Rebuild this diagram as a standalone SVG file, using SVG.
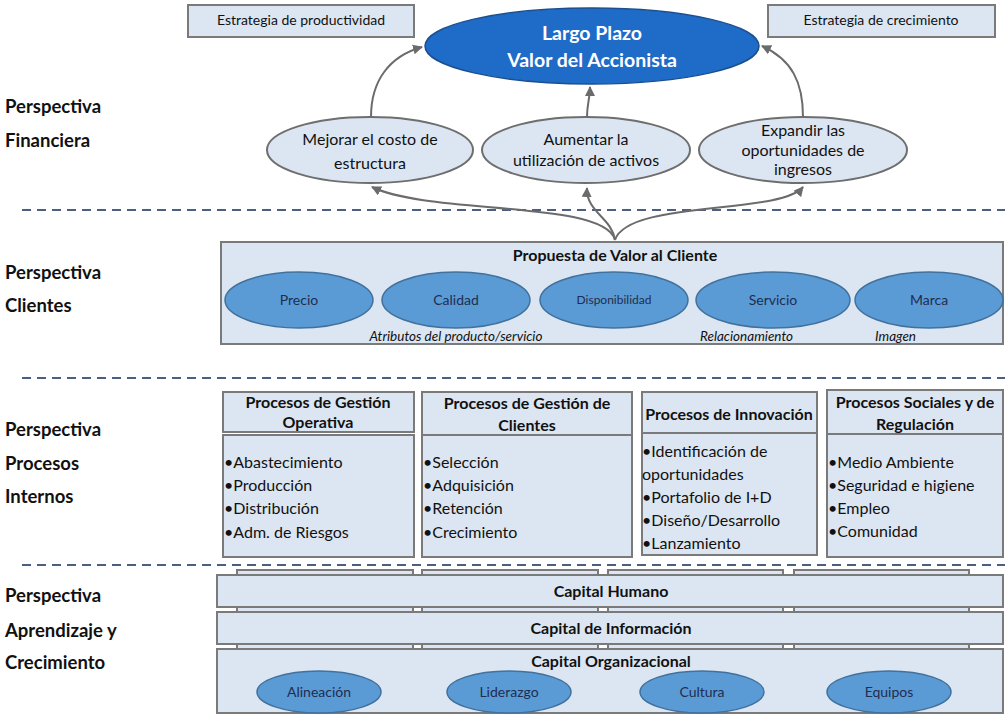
<svg xmlns="http://www.w3.org/2000/svg" width="1005" height="715" viewBox="0 0 1005 715">
<defs>
<marker id="ah" viewBox="0 0 10 10" refX="9" refY="5" markerWidth="5" markerHeight="5" orient="auto-start-reverse" markerUnits="strokeWidth">
<path d="M0,0 L10,5 L0,10 z" fill="#6b6b6b"/>
</marker>
<style>
text{font-family:Lato,"Open Sans","Liberation Sans",sans-serif;fill:#111}
.lbl{font-size:18.5px;font-weight:bold}
.box{fill:#dce6f2;stroke:#7a7a7a;stroke-width:2}
.lell{fill:#dce6f2;stroke:#6e6e6e;stroke-width:2}
.mell{fill:#5b9bd5;stroke:#41719c;stroke-width:1.5}
.sep{stroke:#4d5f80;stroke-width:2;stroke-dasharray:9 6;fill:none}
.con{fill:none;stroke:#6b6b6b;stroke-width:2;marker-end:url(#ah)}
.t14{font-size:14px}
.t16{font-size:16px}
.b16{font-size:16px;font-weight:bold}
.nv{fill:#1f2d50;font-size:14px}
.it{font-size:13.5px;font-style:italic}
.mid{text-anchor:middle}
</style>
</defs>
<rect width="1005" height="715" fill="#ffffff"/>

<g id="separators">
<line class="sep" x1="22" y1="210" x2="1005" y2="210"/>
<line class="sep" x1="22" y1="378" x2="1005" y2="378"/>
<line class="sep" x1="22" y1="565" x2="1005" y2="565"/>
</g>

<g id="labels">
<text class="lbl" x="5" y="113">Perspectiva</text>
<text class="lbl" x="5" y="147">Financiera</text>
<text class="lbl" x="5" y="279">Perspectiva</text>
<text class="lbl" x="5" y="312">Clientes</text>
<text class="lbl" x="5" y="436">Perspectiva</text>
<text class="lbl" x="5" y="470">Procesos</text>
<text class="lbl" x="5" y="503">Internos</text>
<text class="lbl" x="5" y="602">Perspectiva</text>
<text class="lbl" x="5" y="637">Aprendizaje y</text>
<text class="lbl" x="5" y="669">Crecimiento</text>
</g>

<g id="estrategia-productividad">
<rect class="box" x="188" y="5" width="226" height="32"/>
<text class="t14 mid" x="301" y="25">Estrategia de productividad</text>
</g>
<g id="estrategia-crecimiento">
<rect class="box" x="768" y="5" width="227" height="32"/>
<text class="t14 mid" x="881" y="25">Estrategia de crecimiento</text>
</g>

<g id="largo-plazo">
<ellipse cx="592" cy="46" rx="167" ry="38" fill="#1f6cc8" stroke="#1b4f8f" stroke-width="1.5"/>
<text class="mid" x="592" y="40" style="font-size:19.5px;font-weight:bold;fill:#ffffff">Largo Plazo</text>
<text class="mid" x="592" y="67" style="font-size:19.5px;font-weight:bold;fill:#ffffff">Valor del Accionista</text>
</g>

<g id="mejorar">
<ellipse class="lell" cx="370" cy="150" rx="103" ry="33"/>
<text class="t16 mid" x="370" y="145">Mejorar el costo de</text>
<text class="t16 mid" x="370" y="169">estructura</text>
</g>
<g id="aumentar">
<ellipse class="lell" cx="586" cy="150" rx="104" ry="33"/>
<text class="t16 mid" x="586" y="145">Aumentar la</text>
<text class="t16 mid" x="586" y="166">utilización de activos</text>
</g>
<g id="expandir">
<ellipse class="lell" cx="803" cy="150" rx="104" ry="33"/>
<text class="t16 mid" x="803" y="136">Expandir las</text>
<text class="t16 mid" x="803" y="156">oportunidades de</text>
<text class="t16 mid" x="803" y="175">ingresos</text>
</g>

<g id="propuesta">
<rect class="box" x="221" y="242" width="782" height="102"/>
<text class="b16 mid" x="615" y="261">Propuesta de Valor al Cliente</text>
</g>
<g id="precio">
<ellipse class="mell" cx="299" cy="300" rx="74" ry="28"/>
<text class="nv mid" x="299" y="305">Precio</text>
</g>
<g id="calidad">
<ellipse class="mell" cx="456" cy="300" rx="74" ry="28"/>
<text class="nv mid" x="456" y="305">Calidad</text>
</g>
<g id="disponibilidad">
<ellipse class="mell" cx="614" cy="300" rx="74" ry="28"/>
<text class="nv mid" x="614" y="304" style="font-size:12px">Disponibilidad</text>
</g>
<g id="servicio">
<ellipse class="mell" cx="773" cy="300" rx="77" ry="28"/>
<text class="nv mid" x="773" y="305">Servicio</text>
</g>
<g id="marca">
<ellipse class="mell" cx="929" cy="300" rx="74" ry="28"/>
<text class="nv mid" x="929" y="305">Marca</text>
</g>
<g id="customer-notes">
<text class="it mid" x="456" y="341">Atributos del producto/servicio</text>
<text class="it" x="700" y="341">Relacionamiento</text>
<text class="it" x="875" y="341">Imagen</text>
</g>

<g id="proc-operativa">
<rect class="box" x="223" y="392" width="191" height="40"/>
<rect class="box" x="223" y="435" width="191" height="122"/>
<text class="b16 mid" x="318" y="408">Procesos de Gestión</text>
<text class="b16 mid" x="318" y="428">Operativa</text>
<text class="t16" x="224" y="468">•Abastecimiento</text>
<text class="t16" x="224" y="491">•Producción</text>
<text class="t16" x="224" y="514">•Distribución</text>
<text class="t16" x="224" y="538">•Adm. de Riesgos</text>
</g>
<g id="proc-clientes">
<rect class="box" x="422" y="392" width="210" height="43"/>
<rect class="box" x="422" y="435" width="210" height="122"/>
<text class="b16 mid" x="527" y="409">Procesos de Gestión de</text>
<text class="b16 mid" x="527" y="431">Clientes</text>
<text class="t16" x="423" y="468">•Selección</text>
<text class="t16" x="423" y="491">•Adquisición</text>
<text class="t16" x="423" y="514">•Retención</text>
<text class="t16" x="423" y="538">•Crecimiento</text>
</g>
<g id="proc-innovacion">
<rect class="box" x="642" y="392" width="175" height="41"/>
<rect class="box" x="642" y="433" width="175" height="122"/>
<text class="b16 mid" x="729" y="420">Procesos de Innovación</text>
<text class="t16" x="642" y="457">•Identificación de</text>
<text class="t16" x="642" y="480">oportunidades</text>
<text class="t16" x="642" y="503">•Portafolio de I+D</text>
<text class="t16" x="642" y="526">•Diseño/Desarrollo</text>
<text class="t16" x="642" y="549">•Lanzamiento</text>
</g>
<g id="proc-sociales">
<rect class="box" x="827" y="390" width="176" height="44"/>
<rect class="box" x="827" y="434" width="176" height="123"/>
<text class="b16 mid" x="915" y="408">Procesos Sociales y de</text>
<text class="b16 mid" x="915" y="430">Regulación</text>
<text class="t16" x="828" y="468">•Medio Ambiente</text>
<text class="t16" x="828" y="491">•Seguridad e higiene</text>
<text class="t16" x="828" y="514">•Empleo</text>
<text class="t16" x="828" y="537">•Comunidad</text>
</g>

<g id="learning-columns">
<rect class="box" x="237" y="570" width="176" height="143"/>
<rect class="box" x="422" y="570" width="176" height="143"/>
<rect class="box" x="608" y="570" width="175" height="143"/>
<rect class="box" x="794" y="570" width="175" height="143"/>
</g>
<g id="capital-humano">
<rect class="box" x="217" y="575" width="786" height="32"/>
<text class="b16 mid" x="611" y="597">Capital Humano</text>
</g>
<g id="capital-informacion">
<rect class="box" x="217" y="612" width="786" height="32"/>
<text class="b16 mid" x="611" y="634">Capital de Información</text>
</g>
<g id="capital-organizacional">
<rect class="box" x="217" y="649" width="786" height="64"/>
<text class="b16 mid" x="611" y="667">Capital Organizacional</text>
</g>
<g id="alineacion">
<ellipse class="mell" cx="319" cy="692" rx="62" ry="21"/>
<text class="nv mid" x="319" y="697">Alineación</text>
</g>
<g id="liderazgo">
<ellipse class="mell" cx="509" cy="692" rx="62" ry="21"/>
<text class="nv mid" x="509" y="697">Liderazgo</text>
</g>
<g id="cultura">
<ellipse class="mell" cx="702" cy="692" rx="62" ry="21"/>
<text class="nv mid" x="702" y="697">Cultura</text>
</g>
<g id="equipos">
<ellipse class="mell" cx="889" cy="692" rx="62" ry="21"/>
<text class="nv mid" x="889" y="697">Equipos</text>
</g>

<g id="connectors">
<path class="con" d="M371,117 C371,80 390,56 422,47"/>
<path class="con" d="M587,117 C587,104 590,98 590,87"/>
<path class="con" d="M803,117 C803,82 792,60 762,46"/>
<path class="con" d="M615,240 C605,200 430,215 372,187"/>
<path class="con" d="M615,240 C612,218 586,212 587,188"/>
<path class="con" d="M615,240 C628,200 780,215 803,187"/>
</g>
</svg>
